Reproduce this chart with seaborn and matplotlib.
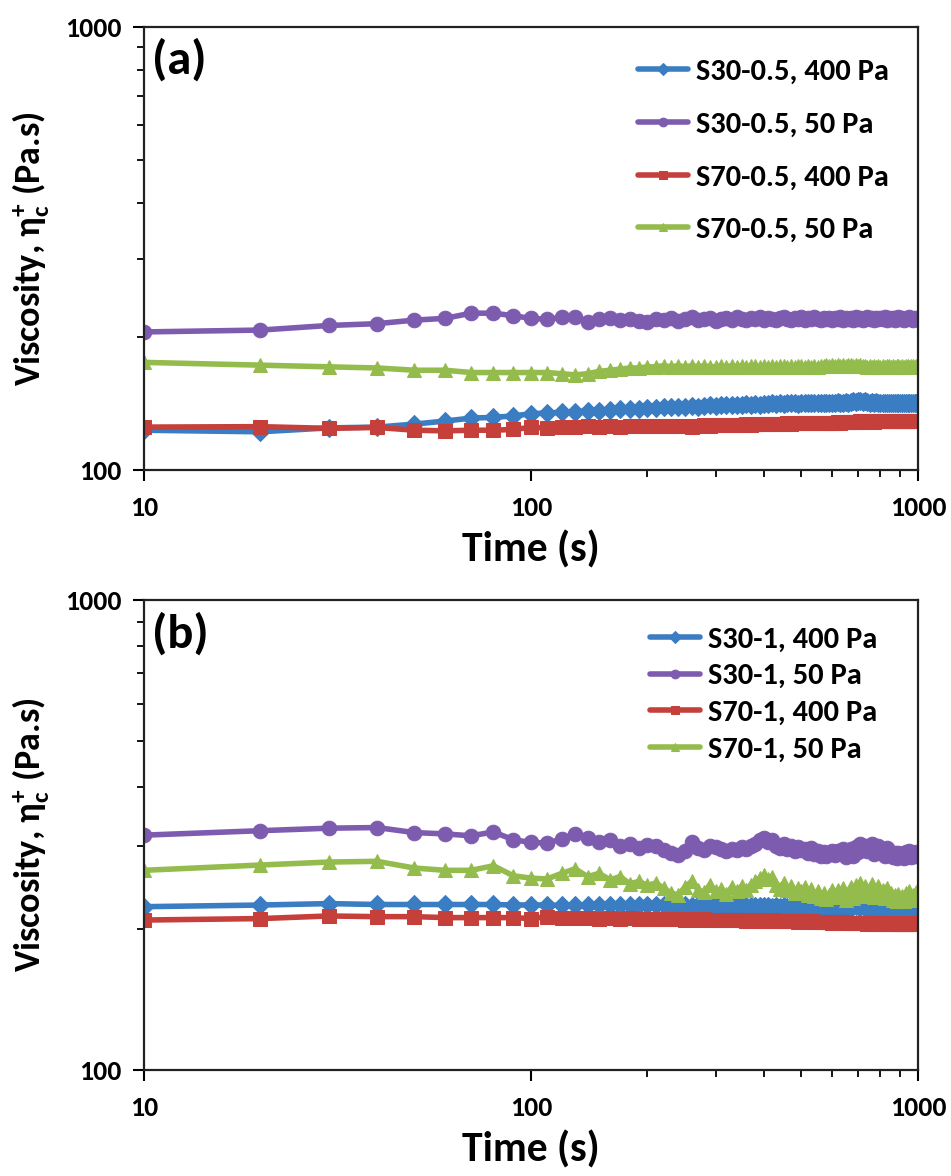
import matplotlib
matplotlib.use("Agg")
import matplotlib.pyplot as plt
from matplotlib.ticker import FixedLocator, NullFormatter, FixedFormatter
import seaborn as sns
import pandas as pd

# Sampling times (s)
time_s = list(range(10, 1001, 10))

# Panel (a): creep viscosity, 0.5 wt% samples
s30_05_400 = [
    123, 122, 124.5, 125, 127, 129, 131, 131.5, 132.5, 134,
    134.5, 135, 135.5, 136, 136, 136.5, 137, 137, 137.5, 138,
    138, 138.5, 138.5, 139, 139, 139.5, 139, 139.5, 140, 139.5,
    140, 140, 140.5, 140, 140.5, 141, 140.5, 141, 140.5, 141,
    141, 141.5, 141, 141.5, 141, 141.5, 142, 141.5, 141, 141.5,
    141.5, 142, 141.5, 142, 141.5, 142, 142, 141.5, 142, 142,
    142, 142.5, 142, 142, 142.5, 142, 142.5, 143, 142.5, 143,
    143, 142.5, 143, 142.5, 142, 142.5, 142, 142.5, 142, 141.5,
    142, 141.5, 142, 141.5, 142, 141.5, 142, 141.5, 141.5, 142,
    141.5, 142, 141.5, 141.5, 142, 141.5, 141.5, 142, 141.5, 141.5,
]
s30_05_50 = [
    205, 207, 212, 214, 218, 220, 226, 226, 223, 220,
    219, 221, 222, 216, 219, 220, 218, 219, 217, 216,
    219, 218, 220, 217, 219, 221, 218, 219, 220, 217,
    219, 220, 218, 221, 219, 218, 220, 219, 221, 218,
    220, 219, 218, 220, 221, 219, 218, 220, 219, 221,
    218, 220, 219, 221, 219, 218, 220, 219, 220, 218,
    220, 219, 221, 218, 220, 219, 220, 218, 221, 219,
    220, 218, 219, 221, 219, 220, 218, 220, 219, 220,
    219, 221, 218, 220, 219, 220, 218, 219, 221, 219,
    220, 218, 219, 220, 221, 219, 218, 220, 219, 219,
]
s70_05_400 = [
    125, 125.3, 124.2, 124.8, 123, 122.6, 123, 123, 123.5, 124.8,
    124.5, 125, 125.3, 125.5, 125.3, 125.5, 125.3, 125.8, 125.5, 125.5,
    125.8, 126, 125.8, 126, 125.5, 125.2, 126, 126.2, 126, 126.3,
    126.3, 126.5, 126.3, 126.5, 126.5, 126.8, 126.5, 126.8, 127, 127,
    127, 127.2, 127, 127.3, 127.2, 127.4, 127.3, 127.5, 127.4, 127.5,
    127.6, 127.5, 127.7, 127.6, 127.8, 127.7, 127.9, 127.8, 128, 127.9,
    128, 128.1, 128, 128.2, 128.1, 128.3, 128.2, 128.3, 128.4, 128.5,
    129, 128.8, 129, 128.7, 128.8, 128.9, 128.7, 128.8, 128.9, 129,
    128.8, 128.9, 129, 128.8, 129, 129.1, 128.9, 129, 129.1, 129,
    129, 129.1, 128.9, 129, 129.2, 129, 129.1, 129, 129.2, 129.1,
]
s70_05_50 = [
    175, 172.5, 171, 170, 168, 168, 166, 166, 166, 166,
    166, 165, 164, 165, 167, 168, 169, 170, 170, 171,
    171, 172, 171, 172, 171, 172, 171, 172, 171, 171,
    172, 171, 172, 171, 172, 171, 172, 172, 171, 172,
    171, 172, 171, 172, 172, 171, 172, 171, 172, 172,
    171, 172, 171, 172, 171, 172, 172, 173, 172, 173,
    172, 173, 172, 173, 172, 173, 173, 172, 173, 172,
    173, 172, 172, 171, 172, 171, 172, 171, 172, 171,
    172, 171, 172, 172, 171, 172, 171, 172, 172, 171,
    172, 171, 172, 172, 171, 172, 172, 171, 172, 172,
]

# Panel (b): creep viscosity, 1 wt% samples
s30_1_400 = [
    222.6, 224.4, 226, 225, 225, 225, 225, 225, 224.5, 224.5,
    224.5, 224, 224.5, 224, 224.5, 224, 224.5, 224, 224, 224.5,
    224, 224.5, 224, 223.5, 224, 223.5, 224, 223.5, 223.5, 224,
    223.5, 223, 223.5, 223, 223.5, 223, 223.5, 223, 223, 223.5,
    223, 222.5, 223, 222.5, 223, 222.5, 222.5, 223, 222, 222.5,
    222, 222.5, 222, 221.5, 222, 221, 221.5, 221, 220.5, 221,
    220.5, 221, 221.5, 222, 222.5, 223, 223.5, 223, 223.5, 223,
    222.5, 223, 222, 222.5, 221.5, 222, 221, 221.5, 220.5, 221,
    220.5, 220, 220.5, 220, 219.5, 220, 219.5, 219, 219.5, 219,
    219.5, 219, 219.5, 219, 218.5, 219, 219.5, 219, 218.5, 219,
]
s30_1_50 = [
    316, 323, 327, 328, 320, 318, 315, 321, 309, 305,
    304, 310, 318, 312, 306, 309, 300, 303, 297, 301,
    299, 294, 289, 287, 292, 306, 297, 294, 300, 298,
    295, 292, 296, 294, 298, 296, 299, 303, 308, 311,
    306, 309, 300, 297, 302, 296, 299, 292, 298, 294,
    296, 290, 297, 288, 293, 286, 291, 285, 289, 292,
    287, 293, 289, 296, 284, 290, 295, 286, 298, 291,
    303, 295, 300, 292, 297, 302, 288, 296, 299, 291,
    294, 285, 297, 288, 290, 284, 289, 283, 290, 285,
    287, 283, 291, 285, 292, 284, 289, 286, 291, 290,
]
s70_1_400 = [
    208.5, 210, 212.7, 212, 212, 211, 211, 211, 211, 210,
    212, 211, 210.5, 210.5, 210, 210.5, 210, 210.5, 210, 210,
    210, 209.5, 210, 209.5, 209, 209.5, 209, 209.5, 209, 209,
    209, 208.5, 209, 208.5, 209, 208, 208.5, 208, 208.5, 208,
    208, 208.5, 208, 207.5, 208, 207.5, 208, 207.5, 207, 207.5,
    207.5, 207, 207.5, 207, 206.5, 207, 206.5, 207, 206.5, 206,
    206.5, 206, 206.5, 206, 206.5, 206, 205.5, 206, 205.5, 206,
    205.5, 206, 205.5, 205, 205.5, 205, 205.5, 205, 205.5, 205,
    205, 205.5, 205, 204.5, 205, 205.5, 205, 204.5, 205, 205,
    205, 204.5, 205, 205.5, 205, 204.5, 205, 205.5, 205, 205,
]
s70_1_50 = [
    266, 273, 277, 278, 269, 266, 266, 272, 259, 256,
    255, 262, 268, 258, 262, 254, 258, 249, 252, 247,
    250, 244, 238, 236, 245, 252, 242, 239, 248, 240,
    243, 237, 245, 240, 246, 242, 248, 252, 256, 260,
    255, 258, 248, 243, 250, 241, 246, 238, 244, 240,
    245, 236, 243, 234, 240, 232, 238, 231, 236, 242,
    233, 241, 235, 244, 230, 238, 245, 232, 247, 236,
    250, 240, 246, 235, 243, 249, 233, 241, 246, 237,
    241, 232, 244, 234, 238, 230, 236, 229, 237, 232,
    235, 229, 238, 231, 240, 230, 236, 232, 239, 236,
]

labels_a = ["S30-0.5, 400 Pa", "S30-0.5, 50 Pa", "S70-0.5, 400 Pa", "S70-0.5, 50 Pa"]
labels_b = ["S30-1, 400 Pa", "S30-1, 50 Pa", "S70-1, 400 Pa", "S70-1, 50 Pa"]
series_a = [s30_05_400, s30_05_50, s70_05_400, s70_05_50]
series_b = [s30_1_400, s30_1_50, s70_1_400, s70_1_50]

colors = ["#3A7DC2", "#7D5BAF", "#C5403A", "#94BC4C"]
markers = ["D", "o", "s", "^"]
msizes = [9.5, 10.5, 9.5, 10.5]

sns.set_theme(style="white")
FONT = ["Carlito", "Roboto Condensed", "DejaVu Sans"]
plt.rcParams["font.family"] = FONT
plt.rcParams["font.weight"] = "bold"
for key in ("text.color", "axes.labelcolor", "xtick.color", "ytick.color"):
    plt.rcParams[key] = "black"
plt.rcParams["mathtext.fontset"] = "custom"
for key in ("rm", "it", "bf", "sf"):
    plt.rcParams["mathtext." + key] = "Carlito:bold"
plt.rcParams["mathtext.default"] = "bf"


def long_frame(labels, series):
    rows = []
    for lab, vals in zip(labels, series):
        for t, v in zip(time_s, vals):
            rows.append({"time": t, "visc": v, "sample": lab})
    return pd.DataFrame(rows)


fig = plt.figure(figsize=(9.51, 11.76), dpi=100)
ax_a = fig.add_axes([0.1514, 0.6003, 0.8139, 0.3767])
ax_b = fig.add_axes([0.1514, 0.0901, 0.8139, 0.3997])


def draw(ax, labels, series, tag, legend_spacing, legend_anchor):
    df = long_frame(labels, series)
    for lab, col, mk, ms in zip(labels, colors, markers, msizes):
        sub = df[df["sample"] == lab]
        sns.lineplot(data=sub, x="time", y="visc", ax=ax, color=col,
                     marker=mk, markersize=ms, markeredgecolor=col,
                     linewidth=4.0, label=lab, estimator=None, sort=False)
    ax.set_xscale("log")
    ax.set_yscale("log")
    ax.set_xlim(10, 1000)
    ax.set_ylim(100, 1000)

    ax.xaxis.set_major_locator(FixedLocator([10, 100, 1000]))
    ax.xaxis.set_major_formatter(FixedFormatter(["10", "100", "1000"]))
    ax.xaxis.set_minor_locator(FixedLocator([200, 300, 400, 500, 600, 700, 800, 900]))
    ax.xaxis.set_minor_formatter(NullFormatter())
    ax.yaxis.set_major_locator(FixedLocator([100, 1000]))
    ax.yaxis.set_major_formatter(FixedFormatter(["100", "1000"]))
    ax.yaxis.set_minor_locator(FixedLocator([200, 300, 400, 500, 600, 700, 800, 900]))
    ax.yaxis.set_minor_formatter(NullFormatter())

    ax.tick_params(which="major", direction="out", length=8, width=1.5,
                   colors="black", labelsize=20, bottom=True, left=True)
    ax.tick_params(axis="x", which="major", pad=11)
    ax.tick_params(axis="y", which="major", pad=8)
    ax.tick_params(which="minor", direction="out", length=5, width=1.3,
                   colors="black", bottom=True, left=True)
    for lbl in ax.get_xticklabels() + ax.get_yticklabels():
        lbl.set_fontweight("bold")

    for sp in ax.spines.values():
        sp.set_color("#222222")
        sp.set_linewidth(1.6)

    ax.set_xlabel("Time (s)", fontsize=30, fontweight="bold", labelpad=7)
    ax.set_ylabel(r"Viscosity, $\eta^{+}_{c}$ (Pa.s)", fontsize=26,
                  fontweight="bold", labelpad=10)
    ax.text(0.011, 0.975, tag, transform=ax.transAxes, fontsize=35,
            fontweight="bold", va="top", ha="left", color="black")

    leg = ax.legend(loc="upper right", bbox_to_anchor=legend_anchor,
                    frameon=False, fontsize=22, handlelength=1.65,
                    handletextpad=0.25, labelspacing=legend_spacing,
                    markerscale=0.6, borderaxespad=0.3)
    for txt in leg.get_texts():
        txt.set_fontweight("bold")
    for h in leg.get_lines():
        h.set_linewidth(4.0)


draw(ax_a, labels_a, series_a, "(a)", 0.86, (0.99, 0.977))
draw(ax_b, labels_b, series_b, "(b)", 0.34, (0.975, 0.99))

fig.savefig("out.png", dpi=100)
